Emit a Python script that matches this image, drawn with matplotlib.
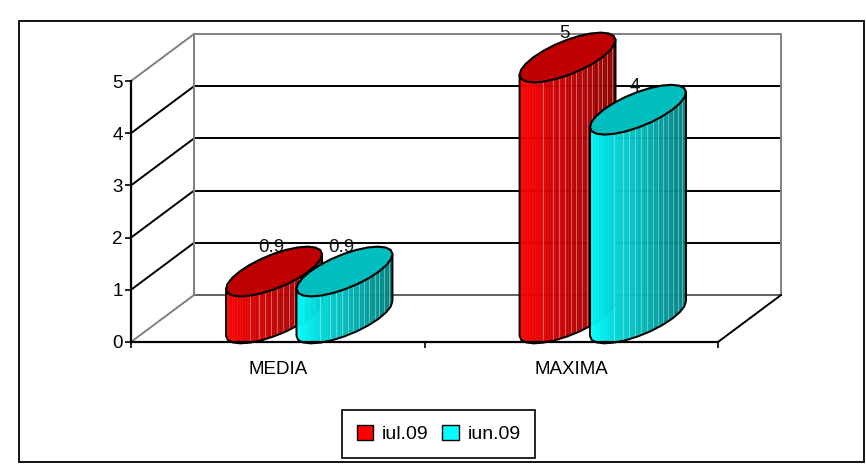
import numpy as np
import matplotlib
matplotlib.use('Agg')
from matplotlib import pyplot as plt
from matplotlib.patches import Patch, Rectangle
from matplotlib.collections import PolyCollection

categories = ['MEDIA', 'MAXIMA']
series_names = ['iul.09', 'iun.09']
iul = [0.9, 5]
iun = [0.9, 4]
value_labels = [['0.9', '5'], ['0.9', '4']]
yticks = [0, 1, 2, 3, 4, 5]

plt.rcParams['font.family'] = ['Liberation Sans', 'DejaVu Sans']
W, H = 866, 468
fig = plt.figure(figsize=(W / 100, H / 100), dpi=100)
fig.patch.set_facecolor('white')
fig.add_artist(Rectangle((19 / W, 1 - 462 / H), 845 / W, 441 / H, transform=fig.transFigure,
                         fill=False, ec='black', lw=1.3))

ax = fig.add_axes([131 / W, 1 - 342 / H, 587 / W, 261 / H])
ax.set_xlim(0, 2)
ax.set_ylim(0, 5)
ax.patch.set_alpha(0)

# depth of the fake 3d box, in data units
dx = 0.2147
dy = 0.9
half_w = 0.1174   # half bar width
half_d = 0.53     # half bar depth
offs = [-0.12, 0.12]
light = [.245, .345, .41, .473, .535, .593, .655, .707, .759, .814, .862, .914, .959]

# walls
gray = '#808080'
for k in yticks:
    if 0 < k < 5:
        ax.plot([0, dx], [k, k + dy], color='black', lw=1.4, clip_on=False, zorder=1)
        ax.plot([dx, 2 + dx], [k + dy, k + dy], color='black', lw=1.4, clip_on=False, zorder=1)
ax.plot([0, dx], [0, dy], color=gray, lw=1.4, clip_on=False, zorder=1)
ax.plot([0, dx], [5, 5 + dy], color=gray, lw=1.4, clip_on=False, zorder=1)
ax.plot([dx, 2 + dx, 2 + dx], [5 + dy, 5 + dy, dy], color=gray, lw=1.4, clip_on=False, zorder=1)
ax.plot([dx, 2 + dx], [dy, dy], color='#606060', lw=1.4, clip_on=False, zorder=1)
ax.plot([dx, dx], [dy, 5 + dy], color=gray, lw=1.4, clip_on=False, zorder=1)
ax.plot([2, 2 + dx], [0, dy], color='black', lw=1.4, clip_on=False, zorder=1)


def ring(cx, base, n=24):
    t = np.linspace(0, 2 * np.pi, n + 1)
    return cx + half_w * np.cos(t) + half_d * dx * np.sin(t), base + half_d * dy * np.sin(t)


def cylinder(x0, value, bright, dark, top, z):
    cx = x0 + dx / 2
    by = dy / 2
    t0 = np.arctan2(half_d * dx, half_w)
    # lower half of the ring, from the left edge round the front to the right edge
    t = np.linspace(np.pi + t0, 2 * np.pi + t0, 13)
    x = cx + half_w * np.cos(t) + half_d * dx * np.sin(t)
    y = by + half_d * dy * np.sin(t)
    # gradient strips across the side
    xs = np.linspace(x[0], x[-1], 60)
    ys = np.interp(xs, x, y)
    polys = []
    cols = []
    for i in range(len(xs) - 1):
        polys.append([(xs[i], ys[i]), (xs[i + 1], ys[i + 1]),
                      (xs[i + 1], ys[i + 1] + value), (xs[i], ys[i] + value)])
        f = i / (len(xs) - 2)
        f = min(f / 0.25, 1) * 0.3 + max(f - 0.25, 0) / 0.75 * 0.7
        cols.append(tuple(np.array(bright) * (1 - f) + np.array(dark) * f))
    ax.add_collection(PolyCollection(polys, facecolors=cols, edgecolors=cols, lw=0.3,
                                     clip_on=False, zorder=z))
    for fr in light:
        lx = xs[0] + fr * (xs[-1] - xs[0])
        ly = np.interp(lx, xs, ys)
        ax.plot([lx, lx], [ly, ly + value], color='white', alpha=0.35, lw=0.8,
                clip_on=False, zorder=z)
    # outline of the side
    ax.plot(np.r_[x[0], x, x[-1]], np.r_[y[0] + value, y, y[-1] + value], color='black', lw=1.4,
            clip_on=False, zorder=z)
    rx, ry = ring(cx, by + value)
    ax.fill(rx, ry, facecolor=top, edgecolor='black', lw=1.5, clip_on=False, zorder=z)


z = 3
for j, vals in enumerate([iul, iun]):
    bright = (1, 0, 0) if j == 0 else (0, 1, 1)
    dark = (.55, 0, 0) if j == 0 else (0, .5, .5)
    top = '#BE0000' if j == 0 else '#00BEBE'
    for i, v in enumerate(vals):
        x0 = i + 0.5 + offs[j]
        cylinder(x0, v, bright, dark, top, z + j)
        # label goes under the bars, the ellipse edge cuts the point off
        ax.annotate(value_labels[j][i], (x0 + dx / 2, dy / 2 + v), xytext=(-2, 17),
                    textcoords='offset points', ha='center', va='center', fontsize=13.5,
                    color='#111111', annotation_clip=False, zorder=2)

ax.set_yticks(yticks)
ax.set_xticks([0, 1, 2])
ax.set_xticklabels([])
ax.set_xticks([0.5, 1.5], minor=True)
ax.set_xticklabels(categories, minor=True, fontsize=13.5)
ax.tick_params(axis='x', which='major', length=4, width=1.2, color='black')
ax.tick_params(axis='x', which='minor', length=0, pad=14)
ax.tick_params(axis='y', length=4, width=1.2, color='black', labelsize=13.5, pad=2)
for lab in ax.get_xticklabels(minor=True):
    lab.set_x(lab.get_position()[0])
for s in ['top', 'right']:
    ax.spines[s].set_visible(False)
for s in ['left', 'bottom']:
    ax.spines[s].set_linewidth(1.6)
    ax.spines[s].set_zorder(6)

handles = [Patch(facecolor='#FF0000', edgecolor='black', label=series_names[0]),
           Patch(facecolor='#00FFFF', edgecolor='black', label=series_names[1])]
fig.legend(handles=handles, ncol=2, loc='center', bbox_to_anchor=(438.5 / W, 1 - 434 / H),
           frameon=True, fancybox=False, edgecolor='black', framealpha=1, fontsize=14,
           handlelength=0.85, handleheight=0.85, handletextpad=0.45, columnspacing=0.7,
           borderpad=0.75, borderaxespad=0).get_frame().set_linewidth(1.2)

fig.savefig('out.png', dpi=100)
